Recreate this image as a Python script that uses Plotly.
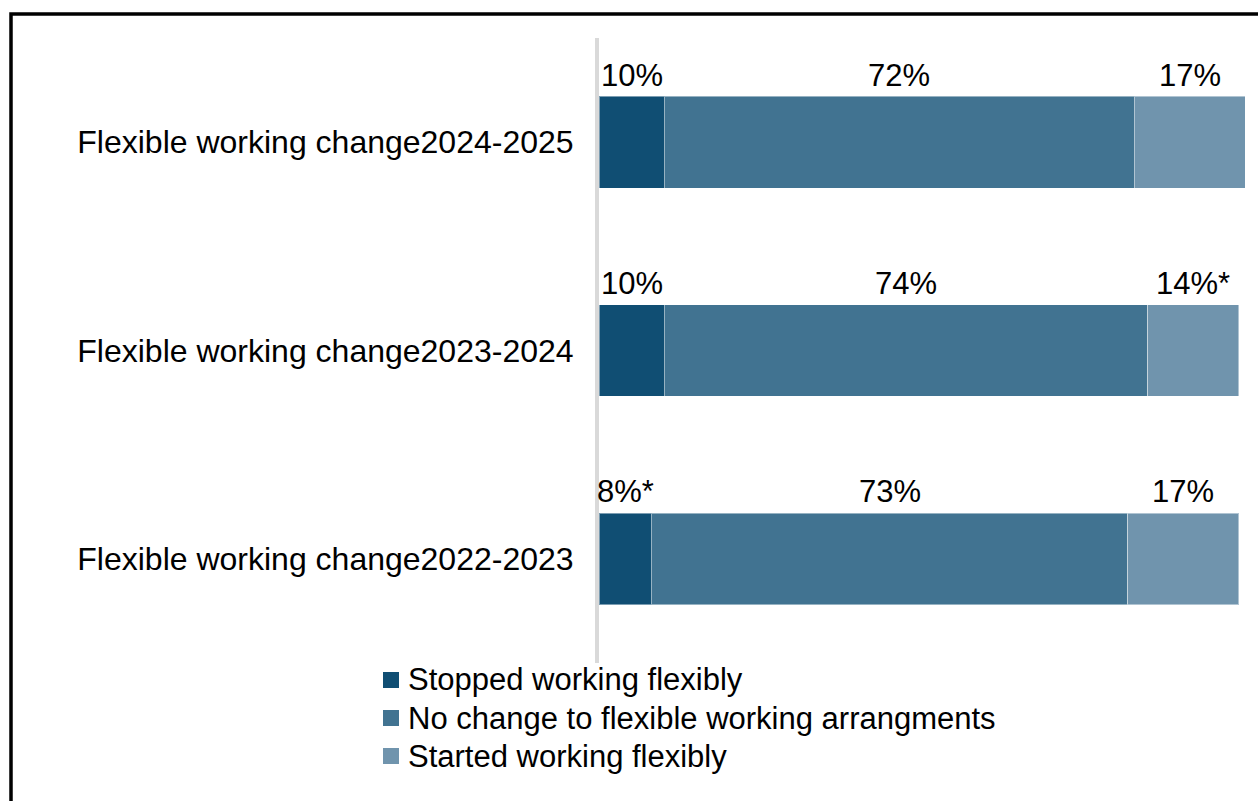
import plotly.graph_objects as go

# Survey periods, listed top to bottom
periods = [
    "Flexible working change2024-2025",
    "Flexible working change2023-2024",
    "Flexible working change2022-2023",
]

# Share of respondents (%) in each category per period
stopped = [10, 10, 8]
no_change = [72, 74, 73]
started = [17, 14, 17]

# Statistically significant changes are flagged with an asterisk
stopped_sig = [False, False, True]
no_change_sig = [False, False, False]
started_sig = [False, True, False]

series = [
    ("Stopped working flexibly", stopped, stopped_sig, "#104E73"),
    ("No change to flexible working arrangments", no_change, no_change_sig, "#417391"),
    ("Started working flexibly", started, started_sig, "#7094AD"),
]

W, H = 1258, 801
M_L, M_R, M_T, M_B = 599, 6, 38, 138
FONT = "Liberation Sans, Arial, sans-serif"


def px_x(px):
    return (px - M_L) / (W - M_L - M_R)


def px_y(py):
    return (H - M_B - py) / (H - M_T - M_B)


fig = go.Figure()
annotations = []
offsets = [0] * len(periods)
for name, vals, sig, color in series:
    fig.add_trace(go.Bar(
        y=periods,
        x=vals,
        name=name,
        orientation="h",
        marker=dict(color=color, line=dict(color="rgba(255,255,255,0.45)", width=1)),
        width=0.44,
        showlegend=False,
        hoverinfo="skip",
    ))
    for i, (p, v, s) in enumerate(zip(periods, vals, sig)):
        annotations.append(dict(
            x=offsets[i] + v / 2, y=p, xref="x", yref="y",
            text=f"{v}%" + ("*" if s else ""),
            showarrow=False, yshift=67,
            font=dict(family=FONT, size=31, color="#000000"),
        ))
        offsets[i] += v

# Legend block beneath the bars
shapes = []
leg_top = 672
for k, (name, vals, sig, color) in enumerate(series):
    y0 = leg_top + k * 38
    shapes.append(dict(
        type="rect", xref="paper", yref="paper",
        x0=px_x(383), x1=px_x(399), y0=px_y(y0), y1=px_y(y0 + 16),
        fillcolor=color, line=dict(width=0),
    ))
    annotations.append(dict(
        x=px_x(406), y=px_y(y0 + 8), xref="paper", yref="paper",
        xanchor="left", yanchor="middle", showarrow=False,
        text=name, font=dict(family=FONT, size=31, color="#000000"),
    ))

# Outer frame
shapes.append(dict(
    type="rect", xref="paper", yref="paper",
    x0=px_x(11), x1=px_x(1275), y0=px_y(14), y1=px_y(820),
    line=dict(color="#000000", width=3.5), fillcolor="rgba(0,0,0,0)", layer="above",
))

fig.update_layout(
    width=W, height=H,
    margin=dict(l=M_L, r=M_R, t=M_T, b=M_B, autoexpand=False),
    barmode="stack",
    bargap=0.56,
    plot_bgcolor="#FFFFFF",
    paper_bgcolor="#FFFFFF",
    font=dict(family=FONT, size=31, color="#000000"),
    annotations=annotations,
    shapes=shapes,
    xaxis=dict(visible=False, range=[0, 100], fixedrange=True),
    yaxis=dict(
        autorange="reversed",
        showline=True, linecolor="#D9D9D9", linewidth=4,
        showgrid=False, zeroline=False, ticks="",
        ticklabelstandoff=15,
        tickfont=dict(family=FONT, size=32, color="#000000"),
    ),
)

fig.write_html("out.html")
